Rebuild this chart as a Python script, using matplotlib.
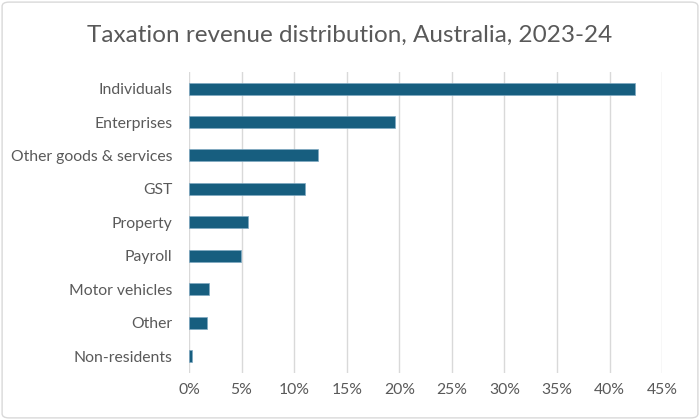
import matplotlib.pyplot as plt
from matplotlib.patches import FancyBboxPatch
from matplotlib.ticker import PercentFormatter

categories = ["Individuals", "Enterprises", "Other goods & services", "GST",
              "Property", "Payroll", "Motor vehicles", "Other", "Non-residents"]
shares = [42.4, 19.55, 12.3, 11.0, 5.6, 4.9, 1.9, 1.75, 0.3]

plt.rcParams['font.family'] = ['Lato', 'DejaVu Sans']
grey = '#595959'

fig = plt.figure(figsize=(7, 4.2), dpi=100)
ax = fig.add_axes([0.27, 0.112, 0.676, 0.717])

y = list(range(len(categories)))
ax.barh(y, shares, height=0.36, color='#175E7F', edgecolor='#7FA9C2', linewidth=0.5, zorder=3)
ax.set_yticks(y)
ax.set_yticklabels(categories)
ax.set_ylim(len(categories) - 0.5, -0.5)
ax.set_xlim(0, 45)
ax.set_xticks(range(0, 46, 5))
ax.xaxis.set_major_formatter(PercentFormatter(decimals=0))
ax.grid(axis='x', color='#D9D9D9', linewidth=1, zorder=0)
for s in ax.spines.values():
    s.set_visible(False)
ax.tick_params(length=0, labelsize=11.3, colors=grey, pad=12)
ax.tick_params(axis='x', pad=7)

fig.text(0.5, 0.915, "Taxation revenue distribution, Australia, 2023-24",
         ha='center', va='center', fontsize=17.5, color=grey)

border = FancyBboxPatch((0.003, 0.005), 0.994, 0.99, boxstyle="round,pad=0,rounding_size=0.01",
                        transform=fig.transFigure, facecolor='none', edgecolor='#D9D9D9', linewidth=1)
fig.patches.append(border)

fig.savefig("out.png", dpi=100)
